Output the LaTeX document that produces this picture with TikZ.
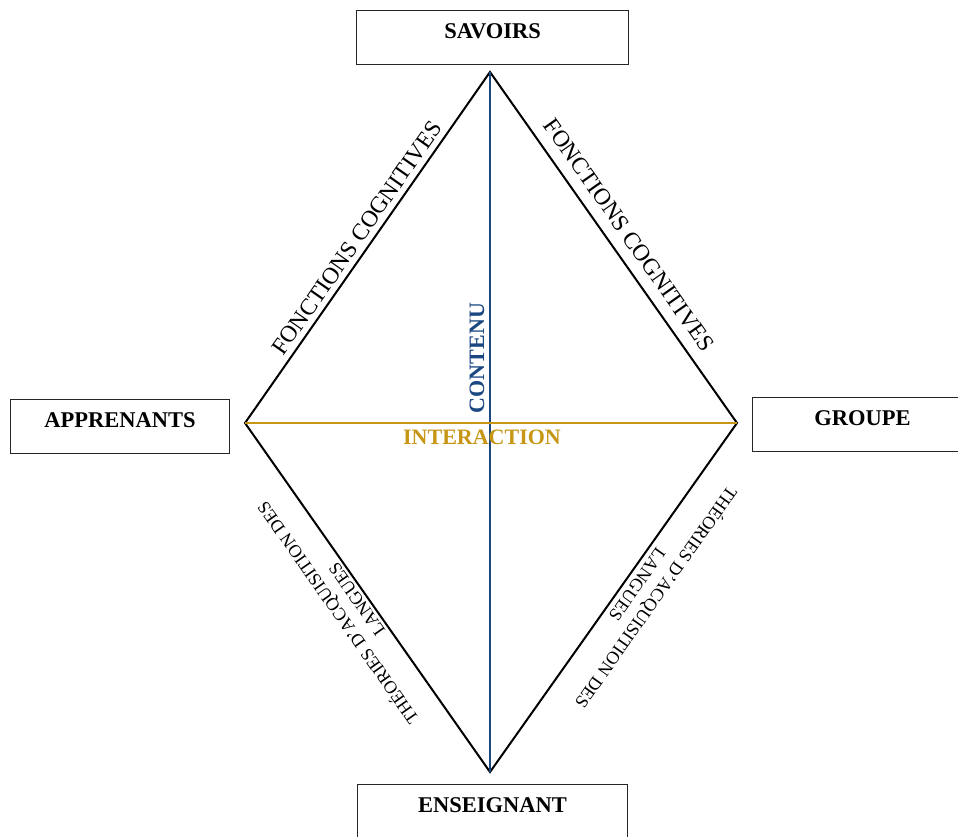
\documentclass[tikz,border=0pt]{standalone}
\usepackage{fontspec}
\setmainfont{Liberation Serif}
\definecolor{contblue}{RGB}{28,72,130}
\definecolor{intgold}{RGB}{198,150,20}
\tikzset{
  boxnode/.style={draw=black!85, line width=1.2pt, inner sep=0pt, text height=28pt, text depth=26pt,
    font=\fontsize{22.5}{26}\selectfont\bfseries},
  edge/.style={line width=2pt, black},
  sidelabel/.style={inner sep=0pt, font=\fontsize{23.5}{27}\selectfont},
  lowlabel/.style={inner sep=0pt, align=center, font=\fontsize{18}{23}\selectfont},
}
\begin{document}
\begin{tikzpicture}[x=1pt,y=-1pt]
\useasboundingbox (0,0) rectangle (958,837);
% boxes
\node[boxnode, anchor=north west, minimum width=272pt] (sav) at (356,10) {SAVOIRS};
\node[boxnode, anchor=north west, minimum width=219pt] (app) at (10,399) {APPRENANTS};
\node[boxnode, anchor=north west, minimum width=220pt] (grp) at (752,397) {GROUPE};
\node[boxnode, anchor=north west, minimum width=270pt] (ens) at (357,784) {ENSEIGNANT};
% diamond vertices
\coordinate (T) at (490,72);
\coordinate (L) at (245,423);
\coordinate (R) at (737,423);
\coordinate (B) at (490,772);
\draw[edge, line join=miter] (T) -- (R) -- (B) -- (L) -- cycle;
\draw[line width=2pt, contblue] (T) -- (B);
\draw[line width=2pt, intgold] (L) -- (R);
% labels
\node[sidelabel, rotate=55.1] (fcl) at (357,238) {FONCTIONS COGNITIVES};
\node[sidelabel, rotate=-54.9] (fcr) at (629,235) {FONCTIONS COGNITIVES};
\node[lowlabel, rotate=125.1] (tal) at (346,607) {\makebox[266pt][s]{THÉORIES D’ACQUISITION DES}\\LANGUES};
\node[lowlabel, rotate=234.7] (tar) at (648,592) {\makebox[266pt][s]{THÉORIES D’ACQUISITION DES}\\LANGUES};
\node[inner sep=0pt, rotate=90, text=contblue, font=\fontsize{22}{26}\selectfont\bfseries] (cont) at (477,358) {CONTENU};
\node[inner sep=0pt, text=intgold, font=\fontsize{22}{26}\selectfont\bfseries] (inter) at (482,437) {INTERACTION};
\end{tikzpicture}
\end{document}
